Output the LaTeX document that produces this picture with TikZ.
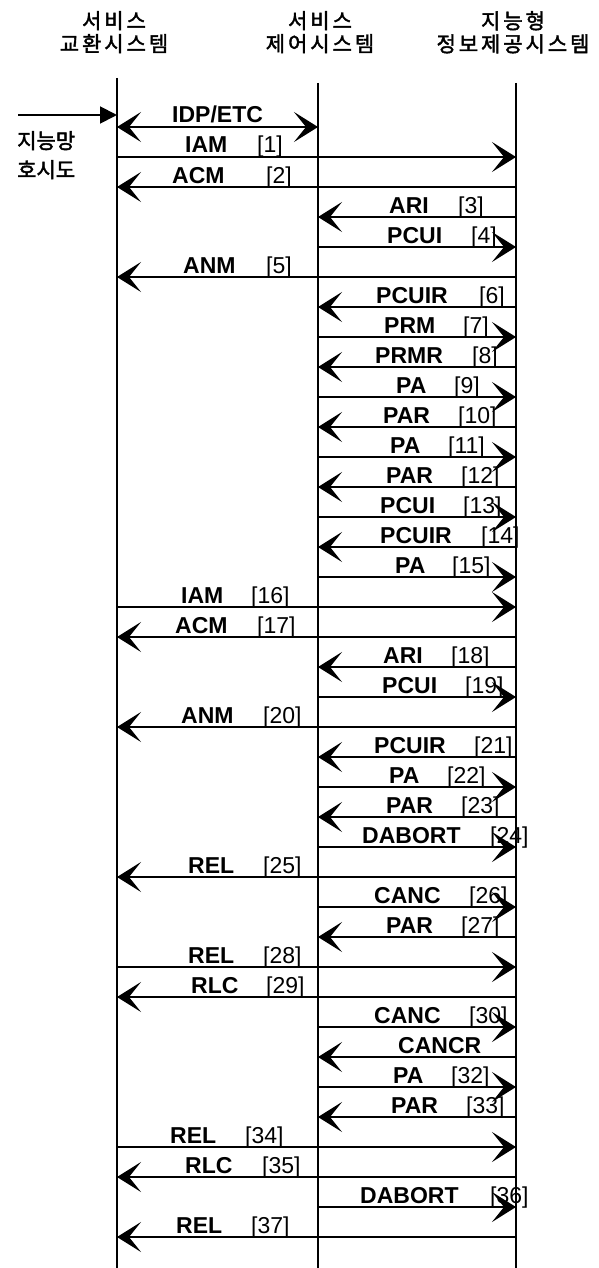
\documentclass[tikz,border=0pt]{standalone}
\usepackage{fontspec}
\setmainfont{Liberation Sans}
\newfontfamily\kor[FakeBold=2]{Noto Sans CJK KR}
\usetikzlibrary{arrows.meta}

\tikzset{
  life/.style={line width=1.9pt},
  msg/.style={line width=1.9pt,-{Stealth[length=24pt,width=30pt,inset=12pt]}},
  dbl/.style={line width=1.9pt,{Stealth[length=24pt,width=30pt,inset=12pt]}-{Stealth[length=24pt,width=30pt,inset=12pt]}},
  callin/.style={line width=1.9pt,-{Triangle[length=17pt,width=17pt]}},
  lbl/.style={anchor=base west,inner sep=0pt,font=\fontsize{23}{23}\selectfont\bfseries},
  num/.style={anchor=base west,inner sep=0pt,font=\fontsize{23}{23}\selectfont},
  sys/.style={align=center,anchor=north,inner sep=0pt,font=\kor\fontsize{21}{23}\selectfont\addfontfeature{LetterSpace=14}}
}

\begin{document}
\begin{tikzpicture}[x=1pt,y=-1pt]
\useasboundingbox (0,0) rectangle (598,1268);
% systems
\node[sys] (sysL) at (114,11) {서비스\\교환시스템};
\node[sys] (sysM) at (320,11) {서비스\\제어시스템};
\node[sys] (sysR) at (513,11) {지능형\\정보제공시스템};
\coordinate (Ltop) at (117,78);  \coordinate (Lbot) at (117,1268);
\coordinate (Mtop) at (318,83);  \coordinate (Mbot) at (318,1268);
\coordinate (Rtop) at (516,83);  \coordinate (Rbot) at (516,1268);
\draw[life] (Ltop) -- (Lbot);
\draw[life] (Mtop) -- (Mbot);
\draw[life] (Rtop) -- (Rbot);
\foreach \k in {0,...,37} {\coordinate (L\k) at (117,{127+30*\k}); \coordinate (M\k) at (318,{127+30*\k}); \coordinate (R\k) at (516,{127+30*\k});}
% incoming call
\coordinate (call) at (18,115); \coordinate (Lcall) at (117,115);
\draw[callin] (call) -- (Lcall);
\node[align=left,anchor=north west,inner sep=0pt,font=\kor\fontsize{21}{29}\selectfont] (caller) at (17,131) {지능망\\호시도};
% messages
\draw[dbl] (L0) -- (M0);
\node[lbl] (t0) at (172,123) {IDP/ETC};
\foreach \k/\src/\dst/\txt/\xt/\xn in {
  1/L/R/IAM/185/257, 2/R/L/ACM/172/266, 3/R/M/ARI/389/458, 4/M/R/PCUI/387/471,
  5/R/L/ANM/183/266, 6/R/M/PCUIR/376/479, 7/M/R/PRM/384/463, 8/R/M/PRMR/375/472,
  9/M/R/PA/396/454, 10/R/M/PAR/383/458, 11/M/R/PA/390/448, 12/R/M/PAR/386/461,
  13/M/R/PCUI/380/463, 14/R/M/PCUIR/380/481, 15/M/R/PA/395/452, 16/L/R/IAM/181/251,
  17/R/L/ACM/175/257, 18/R/M/ARI/383/451, 19/M/R/PCUI/382/465, 20/R/L/ANM/181/263,
  21/R/M/PCUIR/374/474, 22/M/R/PA/389/447, 23/R/M/PAR/386/461, 24/M/R/DABORT/362/490,
  25/R/L/REL/188/263, 26/M/R/CANC/374/469, 27/R/M/PAR/386/461, 28/L/R/REL/188/263,
  29/R/L/RLC/191/266, 30/M/R/CANC/374/469, 32/M/R/PA/393/451, 33/R/M/PAR/391/466,
  34/L/R/REL/170/245, 35/R/L/RLC/185/262, 36/M/R/DABORT/360/490, 37/R/L/REL/176/251} {
  \draw[msg] (\src\k) -- (\dst\k);
  \node[lbl] (t\k) at (\xt,{123+30*\k}) {\txt};
  \node[num] (n\k) at (\xn,{123+30*\k}) {[\k]};
}
\draw[msg] (R31) -- (M31);
\node[lbl] (t31) at (398,1053) {CANCR};
\end{tikzpicture}
\end{document}
